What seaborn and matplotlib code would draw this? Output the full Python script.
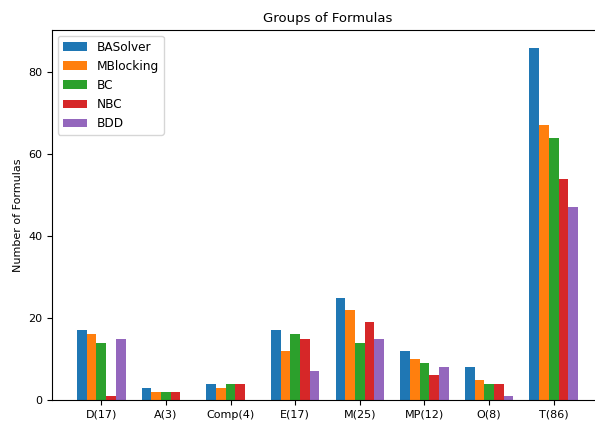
import matplotlib
matplotlib.use('Agg')
import matplotlib.pyplot as plt
import seaborn as sns
import pandas as pd

groups = ['D(17)', 'A(3)', 'Comp(4)', 'E(17)', 'M(25)', 'MP(12)', 'O(8)', 'T(86)']
solvers = ['BASolver', 'MBlocking', 'BC', 'NBC', 'BDD']
basolver = [17, 3, 4, 17, 25, 12, 8, 86]
mblocking = [16, 2, 3, 12, 22, 10, 5, 67]
bc = [14, 2, 4, 16, 14, 9, 4, 64]
nbc = [1, 2, 4, 15, 19, 6, 4, 54]
bdd = [15, 0, 0, 7, 15, 8, 1, 47]
colors = ['#1f77b4', '#ff7f0e', '#2ca02c', '#d62728', '#9467bd']

rows = []
for name, vals in zip(solvers, [basolver, mblocking, bc, nbc, bdd]):
    for g, v in zip(groups, vals):
        rows.append({'group': g, 'solver': name, 'count': v})
df = pd.DataFrame(rows)

fig = plt.figure(figsize=(5.95, 4.21), dpi=100)
# right edge of the axes falls just outside the picture, as in the reference
ax = fig.add_axes([52 / 595, 21 / 421, 551 / 595, 370 / 421])
sns.barplot(data=df, x='group', y='count', hue='solver', palette=colors,
            width=0.75, gap=0, saturation=1, ax=ax, order=groups, hue_order=solvers)
ax.set_xlim(-0.7625, 7.7625)
ax.set_ylim(0, 90.3)
ax.set_title('Groups of Formulas', fontsize=9.5)
ax.set_xlabel('')
ax.set_ylabel('Number of Formulas', fontsize=8)
ax.tick_params(labelsize=8)
ax.set_yticks([0, 20, 40, 60, 80])
ax.legend(loc='upper left', fontsize=8.7)
fig.savefig('out.png', dpi=100)
